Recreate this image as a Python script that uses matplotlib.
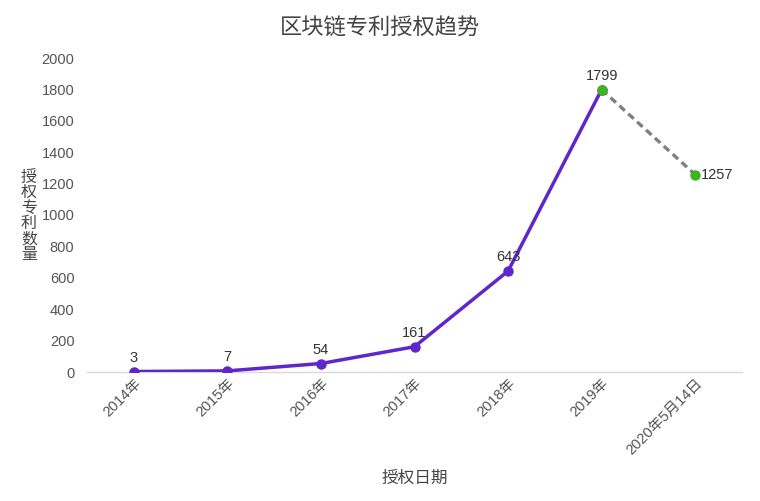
import matplotlib
matplotlib.use("Agg")
import matplotlib.pyplot as plt

plt.rcParams['font.family'] = ['Liberation Sans', 'Noto Sans CJK SC', 'DejaVu Sans']

categories = ['2014年', '2015年', '2016年', '2017年', '2018年', '2019年', '2020年5月14日']
values = [3, 7, 54, 161, 643, 1799, 1257]
title = '区块链专利授权趋势'
xlabel = '授权日期'
ylabel = '授权专利数量'
yticks = [0, 200, 400, 600, 800, 1000, 1200, 1400, 1600, 1800, 2000]

purple = '#5f26cc'
green = '#3cb521'
gray_text = '#555555'
cjk = ['Noto Sans CJK SC', 'DejaVu Sans']

fig = plt.figure(figsize=(7.6, 5.01), dpi=100)
ax = fig.add_axes([87/760, 1-372/501, (742-87)/760, (372-58)/501])

x = list(range(len(categories)))
ax.plot(x[:6], values[:6], color=purple, lw=2.5, marker='o', ms=6.5, zorder=3)
ax.plot(x[5:], values[5:], color='#808080', lw=2.4, ls=(0, (2.2, 1.4)), zorder=2)
ax.plot(x[5:], values[5:], ls='none', marker='o', ms=6.5, color=green, zorder=4)

for i, v in enumerate(values):
    if i == len(values) - 1:
        ax.annotate(str(v), (i, v), xytext=(4, 0), textcoords='offset points',
                    ha='left', va='center', fontsize=10.5, color='#333333')
    else:
        ax.annotate(str(v), (i, v), xytext=(0, 5), textcoords='offset points',
                    ha='center', va='bottom', fontsize=10.5, color='#333333')

ax.set_xlim(-0.5, len(categories) - 0.5)
ax.set_ylim(0, 2000)
ax.set_yticks(yticks)
ax.set_yticklabels([str(t) for t in yticks], fontsize=10.5, color=gray_text)
ax.set_xticks(x)
ax.set_xticklabels(categories, rotation=45, ha='right', rotation_mode='anchor',
                   fontsize=10.5, color=gray_text)
for s in ['top', 'right', 'left']:
    ax.spines[s].set_visible(False)
ax.spines['bottom'].set_color('#d9d9d9')
ax.spines['bottom'].set_linewidth(1)
ax.tick_params(axis='both', length=0)
ax.tick_params(axis='y', pad=9)
ax.tick_params(axis='x', pad=3)
ax.spines['bottom'].set_zorder(1)

fig.text(380/760, 1-28/501, title, ha='center', va='center', fontsize=16,
         color='#444444', family=cjk)
fig.text(415/760, 1-478/501, xlabel, ha='center', va='center', fontsize=12,
         color='#444444', family=cjk)
fig.text(29/760, 1-216/501, '\n'.join(ylabel), ha='center', va='center', fontsize=11.5,
         color='#444444', linespacing=0.88, family=cjk)

fig.savefig('out.png', dpi=100, facecolor='white')
